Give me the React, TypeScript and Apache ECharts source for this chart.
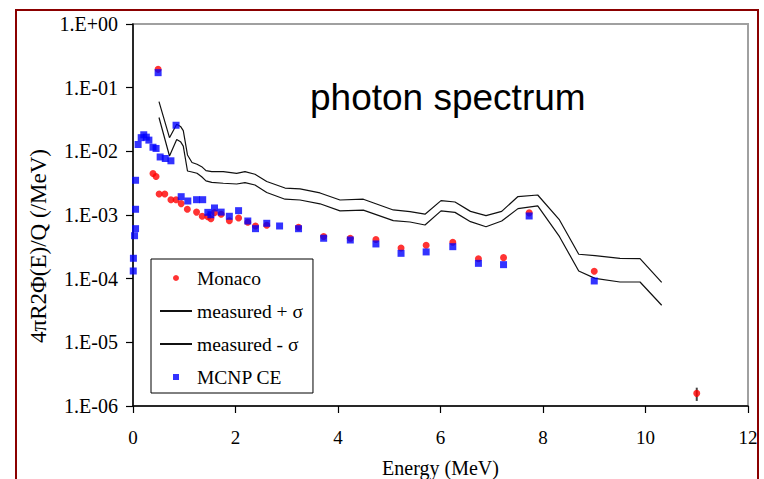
import React, { useEffect, useRef } from 'react';
import * as echarts from 'echarts';

// Monaco (red dots)
const monacoEnergy = [0.39, 0.45, 0.49, 0.51, 0.62, 0.74, 0.84, 0.94, 1.06, 1.24, 1.35, 1.46, 1.52, 1.59, 1.72, 1.88, 2.06, 2.24, 2.39, 2.61, 3.23, 3.72, 4.24, 4.74, 5.23, 5.72, 6.24, 6.74, 7.23, 7.73, 9.0, 11.0];
const monacoValue = [0.00449, 0.00402, 0.194, 0.00214, 0.00214, 0.00174, 0.00174, 0.00151, 0.00123, 0.00111, 0.000954, 0.00094, 0.000874, 0.00109, 0.00103, 0.000814, 0.000898, 0.000769, 0.000672, 0.000689, 0.000641, 0.00046, 0.000431, 0.000412, 0.000303, 0.000334, 0.000373, 0.000206, 0.000214, 0.00108, 0.000131, 1.58e-6];

// MCNP CE (blue squares)
const mcnpEnergy = [0.005, 0.008, 0.03, 0.05, 0.05, 0.05, 0.10, 0.16, 0.21, 0.26, 0.31, 0.39, 0.45, 0.49, 0.53, 0.63, 0.74, 0.84, 0.94, 1.07, 1.24, 1.36, 1.46, 1.52, 1.59, 1.72, 1.88, 2.06, 2.24, 2.39, 2.61, 2.86, 3.23, 3.72, 4.24, 4.74, 5.23, 5.72, 6.24, 6.74, 7.23, 7.73, 9.0];
const mcnpValue = [1.32e-4, 2.09e-4, 4.73e-4, 6.1e-4, 1.23e-3, 3.51e-3, 0.0128, 0.0164, 0.0182, 0.0167, 0.0150, 0.0116, 0.0111, 0.172, 0.00815, 0.00772, 0.0071, 0.0257, 0.00194, 0.00166, 0.00174, 0.00174, 0.0011, 0.00101, 0.00129, 0.00111, 0.000955, 0.00117, 0.000805, 0.00061, 0.000741, 0.000672, 0.000609, 0.000431, 0.000405, 0.000351, 0.00025, 0.000263, 0.000318, 0.000174, 0.000166, 0.000965, 0.000092];

// measured +/- sigma (lines)
const measuredEnergy = [0.507, 0.712, 0.853, 0.927, 0.981, 1.063, 1.151, 1.249, 1.340, 1.424, 1.536, 1.762, 2.023, 2.185, 2.380, 2.609, 2.966, 3.259, 3.649, 4.039, 4.494, 5.079, 5.405, 5.698, 6.010, 6.283, 6.585, 6.888, 7.194, 7.512, 7.897, 8.322, 8.697, 9.015, 9.502, 9.893, 10.316];
const measuredPlus = [0.0602, 0.01637, 0.0266, 0.0246, 0.0211, 0.00877, 0.00668, 0.00626, 0.00574, 0.00497, 0.00479, 0.00479, 0.00452, 0.00479, 0.00436, 0.00336, 0.00265, 0.00258, 0.00222, 0.00172, 0.00177, 0.00120, 0.00113, 0.00103, 0.00168, 0.00160, 0.00114, 0.000975, 0.00114, 0.00195, 0.00206, 0.000836, 0.000242, 0.000230, 0.000209, 0.000206, 0.0000877];
const measuredMinus = [0.0340, 0.00845, 0.01535, 0.01417, 0.0121, 0.00491, 0.00474, 0.00452, 0.00398, 0.00343, 0.00325, 0.00315, 0.00307, 0.00322, 0.00296, 0.00226, 0.00177, 0.00172, 0.00150, 0.00116, 0.00119, 0.000814, 0.000776, 0.000697, 0.00116, 0.00110, 0.000785, 0.000655, 0.000805, 0.00126, 0.00139, 0.000456, 0.000132, 0.000101, 0.0000887, 0.0000887, 0.0000382];

// error bar of the last Monaco point
const errorEnergy = [11.0, 11.0];
const errorRange = [1.2e-6, 1.94e-6];

const yTickExponents = [0, -1, -2, -3, -4, -5, -6];
const xTicks = [0, 2, 4, 6, 8, 10, 12];

const SERIF = "'Liberation Serif', 'Times New Roman', serif";
const SANS = "'Liberation Sans', Arial, sans-serif";

// small centred square inside the 32x6 legend icon box
const SQUARE_ICON = 'path://M0,3L0,3M32,3L32,3M13,0L19,0L19,6L13,6Z';

const zip = (xs: number[], ys: number[]) => xs.map((x, i) => [x, ys[i]]);

function fmtExp(v: number) {
  const e = Math.round(Math.log10(v));
  if (!yTickExponents.includes(e)) return '';
  const a = Math.abs(e);
  return '1.E' + (e >= 0 ? '+' : '-') + (a < 10 ? '0' + a : String(a));
}

export default function App() {
  const ref = useRef<HTMLDivElement>(null);
  useEffect(() => {
    const chart = echarts.init(ref.current!, null, { renderer: 'svg' });
    chart.setOption({
      animation: false,
      backgroundColor: '#ffffff',
      grid: {
        left: 133,
        top: 24,
        right: 16,
        bottom: 73,
        show: true,
        borderColor: '#a0a0a0',
        borderWidth: 2,
        backgroundColor: 'transparent',
        containLabel: false,
        outerBoundsMode: 'none',
      },
      xAxis: {
        type: 'value',
        min: xTicks[0],
        max: xTicks[xTicks.length - 1],
        interval: 2,
        axisLine: { show: true, onZero: false, lineStyle: { color: '#000', width: 1.5 } },
        axisTick: { show: true, inside: false, length: 7, lineStyle: { color: '#000', width: 1.2 } },
        splitLine: { show: false },
        axisLabel: { color: '#000', fontFamily: SERIF, fontSize: 19, margin: 22 },
        name: 'Energy (MeV)',
        nameLocation: 'middle',
        nameGap: 52,
        nameTextStyle: { color: '#000', fontFamily: SERIF, fontSize: 20 },
      },
      yAxis: {
        type: 'log',
        logBase: 10,
        min: 1e-6,
        max: 1,
        splitNumber: 6,
        axisLine: { show: true, onZero: false, lineStyle: { color: '#000', width: 1.5 } },
        axisTick: { show: true, inside: false, length: 7, lineStyle: { color: '#000', width: 1.2 } },
        minorTick: { show: false },
        splitLine: { show: false },
        axisLabel: { color: '#000', fontFamily: SERIF, fontSize: 20, margin: 15, formatter: fmtExp },
      },
      legend: {
        orient: 'vertical',
        left: 151,
        top: 259,
        itemWidth: 32,
        itemHeight: 6,
        itemGap: 11,
        symbolKeepAspect: true,
        padding: [8, 10, 5, 8],
        borderColor: '#000',
        borderWidth: 1,
        backgroundColor: '#fff',
        selectedMode: false,
        textStyle: { color: '#000', fontFamily: SERIF, fontSize: 19.5, lineHeight: 22 },
        data: [
          { name: 'Monaco', icon: 'circle' },
          { name: 'measured + σ', itemStyle: { opacity: 0 } },
          { name: 'measured - σ', itemStyle: { opacity: 0 } },
          { name: 'MCNP CE', icon: SQUARE_ICON },
        ],
      },
      graphic: [
        {
          type: 'rect',
          shape: { x: 16, y: 10, width: 742, height: 490 },
          style: { fill: 'none', stroke: '#8b0000', lineWidth: 2 },
          silent: true,
        },
        {
          type: 'text',
          x: 310,
          y: 97,
          style: {
            text: 'photon spectrum',
            font: `37px ${SANS}`,
            fill: '#000',
            align: 'left',
            verticalAlign: 'middle',
          },
        },
        {
          type: 'text',
          x: 38,
          y: 246,
          rotation: Math.PI / 2,
          style: {
            text: '4πR2Φ(E)/Q (/MeV)',
            font: `23px ${SERIF}`,
            fill: '#000',
            align: 'center',
            verticalAlign: 'middle',
          },
        },
      ],
      series: [
        {
          name: 'error',
          type: 'line',
          data: zip(errorEnergy, errorRange),
          symbol: 'none',
          lineStyle: { color: '#444', width: 2 },
          z: 1,
        },
        {
          name: 'Monaco',
          type: 'scatter',
          data: zip(monacoEnergy, monacoValue),
          symbol: 'circle',
          symbolSize: 7,
          itemStyle: { color: '#ff0000' },
          z: 2,
        },
        {
          name: 'measured + σ',
          type: 'line',
          data: zip(measuredEnergy, measuredPlus),
          symbol: 'none',
          showSymbol: false,
          lineStyle: { color: '#111', width: 1.2 },
          itemStyle: { color: '#111' },
          z: 2,
        },
        {
          name: 'measured - σ',
          type: 'line',
          data: zip(measuredEnergy, measuredMinus),
          symbol: 'none',
          showSymbol: false,
          lineStyle: { color: '#111', width: 1.2 },
          itemStyle: { color: '#111' },
          z: 2,
        },
        {
          name: 'MCNP CE',
          type: 'scatter',
          data: zip(mcnpEnergy, mcnpValue),
          symbol: 'rect',
          symbolSize: 7,
          itemStyle: { color: '#0000ff' },
          z: 3,
        },
      ],
    });
    return () => chart.dispose();
  }, []);
  return (
    <div
      ref={ref}
      style={{ position: 'fixed', left: 0, top: 0, width: 764, height: 479, background: '#fff' }}
    />
  );
}
